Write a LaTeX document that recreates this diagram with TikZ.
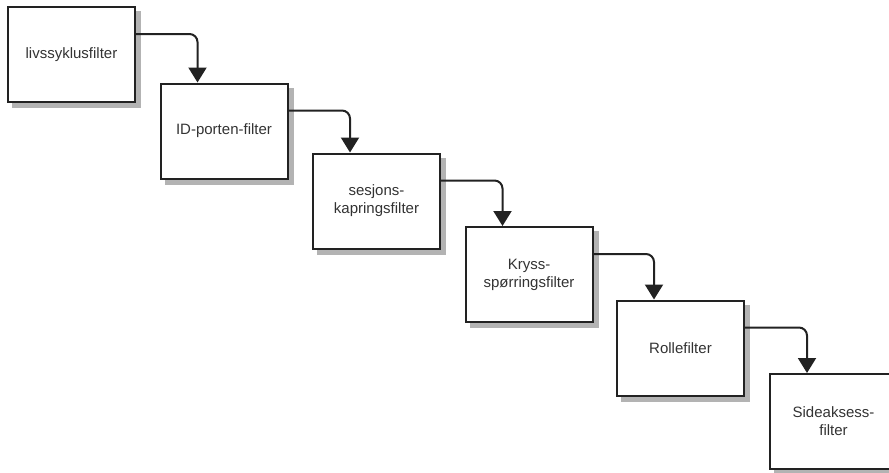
\documentclass[tikz,border=0pt]{standalone}
\usepackage{fontspec}
\setmainfont{Liberation Sans}
\definecolor{TextGray}{RGB}{51,51,51}
\definecolor{LineGray}{RGB}{34,34,34}
\definecolor{ShadowGray}{RGB}{179,179,179}
\usetikzlibrary{arrows.meta, positioning}

\begin{document}
\begin{tikzpicture}[x=1pt, y=-1pt,
    every node/.style={font=\fontsize{15}{18}\selectfont, align=center, text=TextGray},
    filterbox/.style={draw=LineGray, line width=2pt, fill=white, inner sep=0pt,
                minimum width=127pt, minimum height=95pt,
                preaction={fill=ShadowGray, draw=ShadowGray, transform canvas={xshift=5pt, yshift=-5pt}}},
    link/.style={-{Triangle[length=15pt, width=18pt]}, LineGray, line width=2pt, rounded corners=8pt}
]
\useasboundingbox (0,0) rectangle (889,472);
\node[filterbox] (livs) at (71.5,54.5) {livssyklusfilter};
\node[filterbox] (idporten) at (224,131) {ID-porten-filter};
\node[filterbox] (sesjon) at (376.5,201) {sesjons-\\kapringsfilter};
\node[filterbox] (kryss) at (529,274.5) {Kryss-\\spørringsfilter};
\node[filterbox] (rolle) at (680.5,348) {Rollefilter};
\node[filterbox] (side) at (833.5,421.5) {Sideaksess-\\filter};
\draw[link] ([yshift=-28pt]livs.north east) -| ([xshift=38pt]idporten.north west);
\draw[link] ([yshift=-28pt]idporten.north east) -| ([xshift=38pt]sesjon.north west);
\draw[link] ([yshift=-28pt]sesjon.north east) -| ([xshift=38pt]kryss.north west);
\draw[link] ([yshift=-28pt]kryss.north east) -| ([xshift=38pt]rolle.north west);
\draw[link] ([yshift=-28pt]rolle.north east) -| ([xshift=38pt]side.north west);
\end{tikzpicture}
\end{document}
